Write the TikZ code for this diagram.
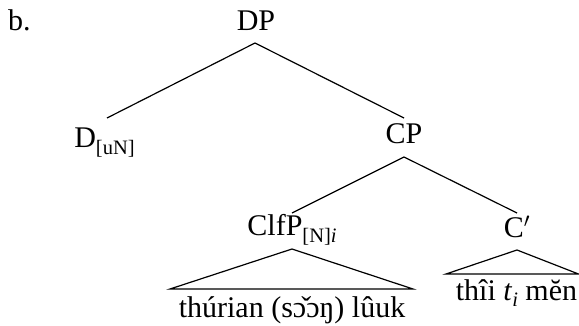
\documentclass[tikz,border=0pt]{standalone}
\usepackage{fontspec}
\setmainfont{Liberation Serif}
% lowered, smaller feature subscript
\newcommand\lsub[1]{\raisebox{-6.5pt}{\fontsize{20.5}{20.5}\selectfont #1}}
\begin{document}
\begin{tikzpicture}[x=1pt,y=-1pt,
  font=\fontsize{30}{36}\selectfont,
  lbl/.style={inner sep=0pt, anchor=base},
  edge/.style={line width=1.2pt}]
\useasboundingbox (0,0) rectangle (579,326);

% labels
\node[lbl, anchor=base west] (ex) at (8,31) {b.};
\node[lbl] (DP) at (256,31) {DP};
\node[lbl] (D) at (104.5,148) {D\lsub{[uN]}};
\node[lbl] (CP) at (404,144) {CP};
\node[lbl] (ClfP) at (292,236) {ClfP\lsub{[N]\textit{i}}};
\node[lbl] (Cbar) at (517,237) {C$'$};
\node[lbl] (w1) at (292,317) {thúrian (sɔ̌ɔŋ) lûuk};
\node[lbl] (w2) at (516.5,300) {thîi \textit{t}\lsub{\textit{i}} mĕn};

% attachment points
\coordinate (DP-s) at (255,43);
\coordinate (D-n) at (107,118);
\coordinate (CP-n) at (404,118);
\coordinate (CP-s) at (404,157);
\coordinate (ClfP-n) at (292,213);
\coordinate (Cbar-n) at (517,213);
\coordinate (ClfP-s) at (292,249);
\coordinate (Cbar-s) at (517,250);
\coordinate (t1-l) at (170,289);
\coordinate (t1-r) at (413,289);
\coordinate (t2-l) at (446,274);
\coordinate (t2-r) at (578.5,274);

% branches
\draw[edge] (DP-s) -- (D-n);
\draw[edge] (DP-s) -- (CP-n);
\draw[edge] (CP-s) -- (ClfP-n);
\draw[edge] (CP-s) -- (Cbar-n);

% roofs over unanalysed strings
\draw[edge, line join=miter] (ClfP-s) -- (t1-l) -- (t1-r) -- cycle;
\draw[edge, line join=miter] (Cbar-s) -- (t2-l) -- (t2-r) -- cycle;
\end{tikzpicture}
\end{document}
